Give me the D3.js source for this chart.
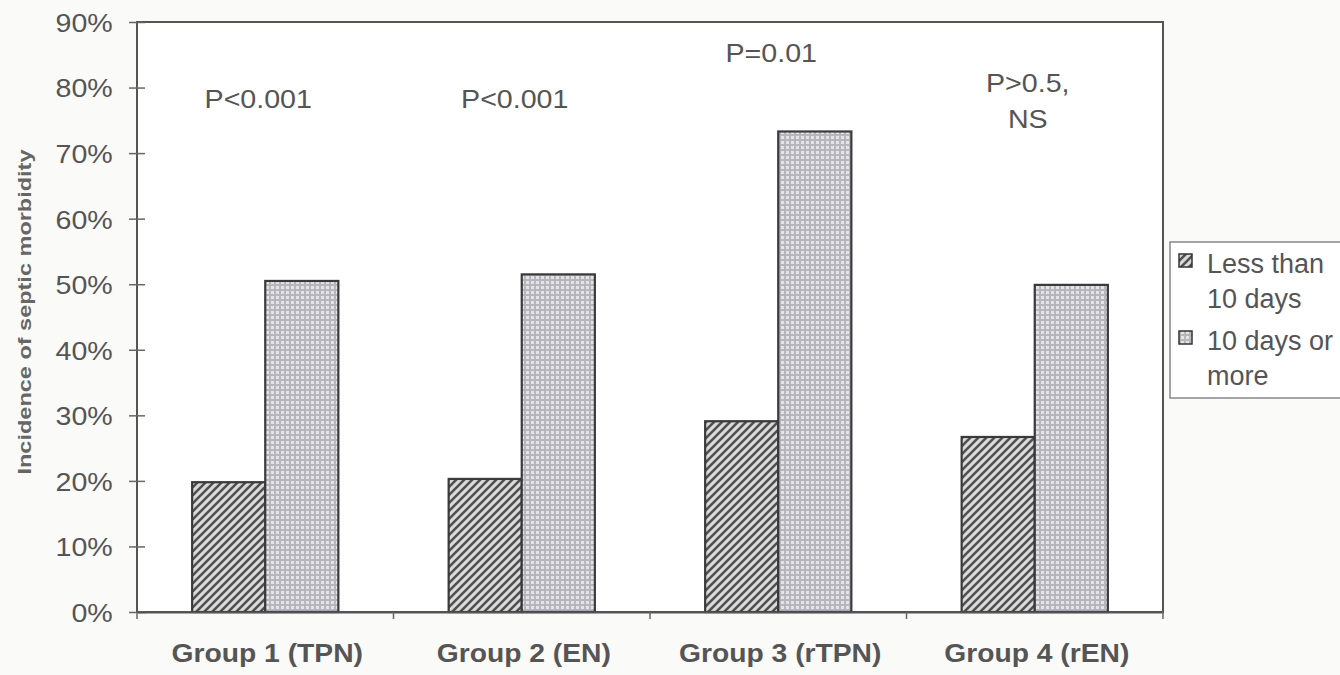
<!DOCTYPE html>
<html><head><meta charset="utf-8">
<script src="https://cdn.jsdelivr.net/npm/d3@7"></script>
<style>body{margin:0;background:#fafaf9;} text{font-family:"Liberation Sans",Arial,sans-serif;}</style>
</head><body>
<svg id="c" width="1340" height="675"></svg>
<script>
const categories = ["Group 1 (TPN)", "Group 2 (EN)", "Group 3 (rTPN)", "Group 4 (rEN)"];
const seriesNames = ["Less than 10 days", "10 days or more"];
const lessThan10 = [19.8, 20.3, 29.1, 26.7];
const tenOrMore = [50.5, 51.5, 73.3, 49.9];
const pLabels = [["P<0.001"], ["P<0.001"], ["P=0.01"], ["P>0.5,", "NS"]];
const pLabelY = [76.9, 76.9, 83.9, 79.3];
const yTicks = [0,10,20,30,40,50,60,70,80,90];
const legendLines = [["Less than","10 days"],["10 days or","more"]];

const svg = d3.select("#c");
const m = {l:137, t:22, r:1163, b:612};
const x = d3.scaleBand().domain(categories).range([m.l, m.r]).paddingInner(0.43).paddingOuter(0.215);
const xs = d3.scaleBand().domain([0,1]).range([0, x.bandwidth()]);
const y = d3.scaleLinear().domain([0,90]).range([m.b, m.t]);
const ink = "#555";

const defs = svg.append("defs");
const ph = defs.append("pattern").attr("id","hatch").attr("patternUnits","userSpaceOnUse").attr("width",8).attr("height",8);
ph.append("rect").attr("width",8).attr("height",8).attr("fill","#dadada");
ph.append("path").attr("d","M-2,10 L10,-2 M-2,2 L2,-2 M6,10 L10,6").attr("stroke","#505050").attr("stroke-width",2.6);
const pd = defs.append("pattern").attr("id","dots").attr("patternUnits","userSpaceOnUse").attr("width",5).attr("height",5);
pd.append("rect").attr("width",5).attr("height",5).attr("fill","#b6b6bc");
pd.append("rect").attr("x",1).attr("y",1).attr("width",3).attr("height",3).attr("fill","#e4e4e8");

// plot frame
svg.append("rect").attr("x",m.l).attr("y",m.t).attr("width",m.r-m.l).attr("height",m.b-m.t)
  .attr("fill","#fff").attr("stroke",ink).attr("stroke-width",2);

const fills = ["url(#hatch)","url(#dots)"];
const series = [lessThan10, tenOrMore];
series.forEach((vals, si) => {
  svg.append("g").selectAll("rect").data(categories).join("rect")
    .attr("x", d => x(d) + xs(si))
    .attr("y", (d,i) => y(vals[i]))
    .attr("width", xs.bandwidth())
    .attr("height", (d,i) => y(0) - y(vals[i]))
    .attr("fill", fills[si]).attr("stroke","#3a3a3a").attr("stroke-width",2.2);
});

// y axis
const ya = svg.append("g").attr("transform",`translate(${m.l},0)`)
  .call(d3.axisLeft(y).tickValues(yTicks).tickFormat(d => d + "%").tickSize(8).tickPadding(14));
ya.select(".domain").remove();
ya.selectAll(".tick line").attr("x2",8).attr("x1",-8).attr("stroke","#666").attr("stroke-width",1.5);
ya.selectAll(".tick text").attr("font-size",26).attr("fill",ink).attr("transform","scale(1.1,1)")
  .attr("dy","0.36em").attr("font-family","Liberation Sans, Arial, sans-serif");

// x axis
const xa = svg.append("g").attr("transform",`translate(0,${m.b})`)
  .call(d3.axisBottom(x).tickSize(0).tickPadding(32));
xa.select(".domain").attr("stroke",ink).attr("stroke-width",2);
xa.selectAll(".tick text").attr("font-size",25).attr("font-weight","bold").attr("fill",ink)
  .attr("transform","translate(2,0) scale(1.13,1)").attr("font-family","Liberation Sans, Arial, sans-serif");
const step = x.step();
svg.append("g").selectAll("line").data(d3.range(categories.length+1)).join("line")
  .attr("x1", i => m.l + i*step).attr("x2", i => m.l + i*step)
  .attr("y1", m.b).attr("y2", m.b+7).attr("stroke","#666").attr("stroke-width",1.5);

// y title
svg.append("text").attr("transform","translate(31,312) rotate(-90)").attr("text-anchor","middle")
  .attr("font-size",18).attr("font-weight","bold").attr("fill","#666")
  .attr("textLength",325).attr("lengthAdjust","spacingAndGlyphs").text("Incidence of septic morbidity");

// P labels
categories.forEach((c,i) => {
  const cx = x(c) + x.bandwidth()/2 - 7;
  const t = svg.append("text").attr("transform",`translate(${cx},${y(pLabelY[i])}) scale(1.1,1)`)
    .attr("text-anchor","middle").attr("font-size",26).attr("fill",ink);
  pLabels[i].forEach((s,k) => t.append("tspan").attr("x",0).attr("dy", k ? 36 : 0).text(s));
});

// legend
const lg = svg.append("g");
lg.append("rect").attr("x",1170).attr("y",242).attr("width",175).attr("height",156).attr("fill","#fff").attr("stroke","#888").attr("stroke-width",1.5);
legendLines.forEach((lines,i) => {
  const by = 273 + i*77;
  lg.append("rect").attr("x",1179).attr("y",by-19).attr("width",13).attr("height",13).attr("fill",fills[i]).attr("stroke","#333").attr("stroke-width",1.5);
  const t = lg.append("text").attr("x",1207).attr("y",by).attr("font-size",27).attr("fill",ink);
  lines.forEach((s,k) => t.append("tspan").attr("x",1207).attr("dy",k?35:0).text(s));
});
</script>
</body></html>
